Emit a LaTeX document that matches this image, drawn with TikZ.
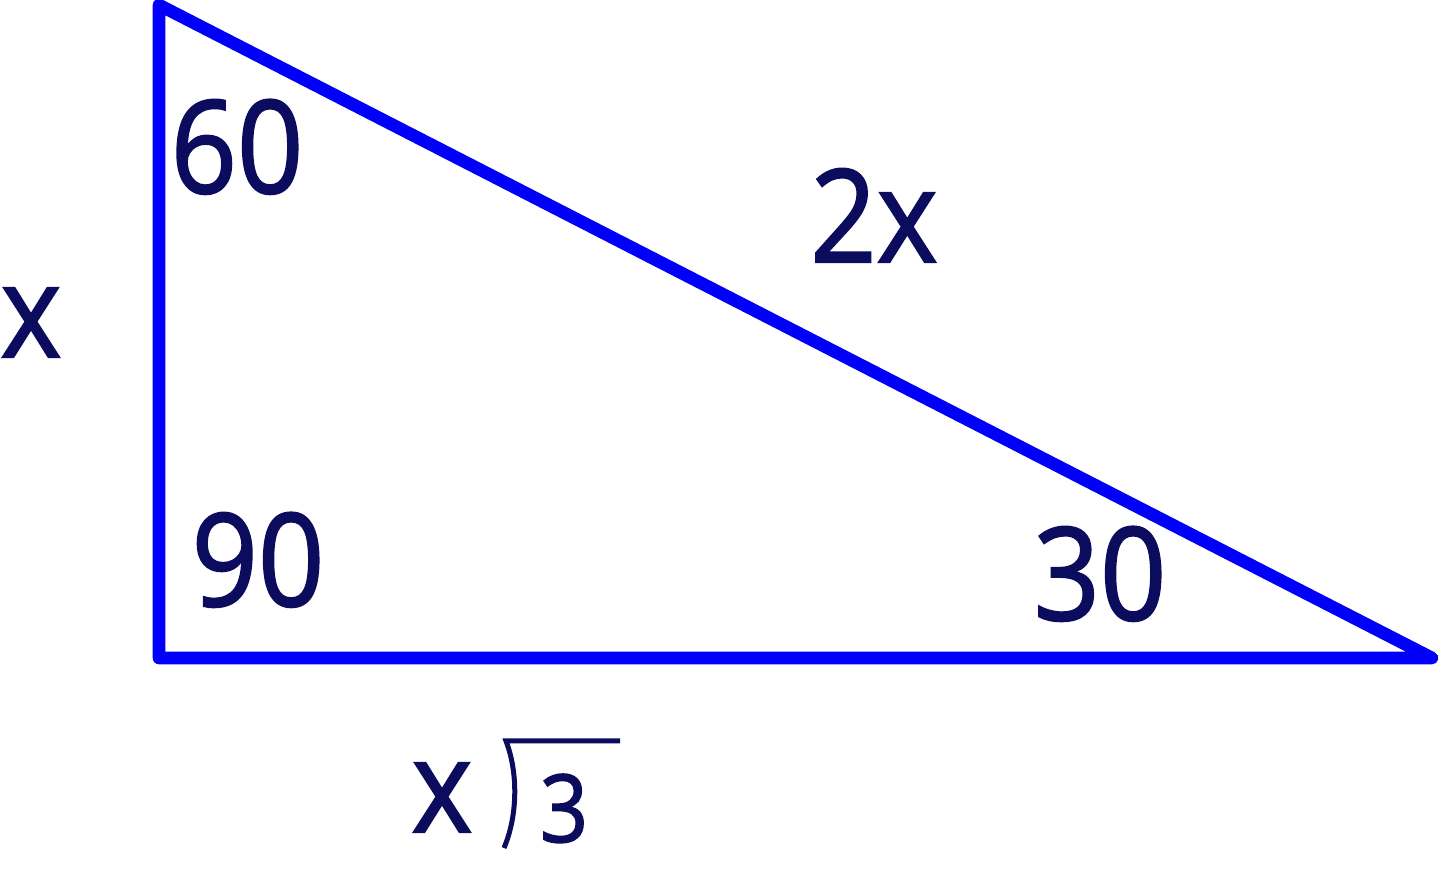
\documentclass[tikz,border=0pt]{standalone}
\usepackage{fontspec}
\usepackage{graphicx}
\setmainfont{Open Sans}
\newfontfamily\labfont[FakeBold=1.6]{Open Sans}
\definecolor{tri}{RGB}{0,0,250}
\definecolor{ink}{RGB}{12,12,95}
\newcommand{\narrow}[1]{\scalebox{0.9}[1]{#1}}
\begin{document}
\begin{tikzpicture}[x=0.5pt,y=-0.5pt,
  lab/.style={text=ink,inner sep=0pt,anchor=base,font=\labfont\fontsize{64.5}{70}\selectfont},
  smalllab/.style={text=ink,inner sep=0pt,anchor=base,font=\labfont\fontsize{47}{52}\selectfont},
  side/.style={draw=tri,line width=6.3pt,line join=round,line cap=round}]
\useasboundingbox (0,0) rectangle (1440,870);
\coordinate (A) at (159,5);
\coordinate (B) at (159,658);
\coordinate (C) at (1432,658);
\draw[side] (A) -- (B) -- (C) -- cycle;
\node[lab] (a60) at (237,193) {\narrow{60}};
\node[lab] (a90) at (258,606) {\narrow{90}};
\node[lab] (a30) at (1100,620) {\narrow{30}};
\node[lab] (hyp) at (874,262) {\narrow{2x}};
\node[lab] (leg) at (31,357) {\narrow{x}};
\node[lab] (base) at (442,832) {\narrow{x}};
\node[smalllab] (three) at (564,842) {\narrow{3}};
\coordinate (r1) at (506,741);
\coordinate (r2) at (504,848);
\coordinate (r3) at (620,741);
\draw[draw=ink,line width=2.5pt] (r2) .. controls (518,815) and (518,772) .. (r1) -- (r3);
\end{tikzpicture}
\end{document}
